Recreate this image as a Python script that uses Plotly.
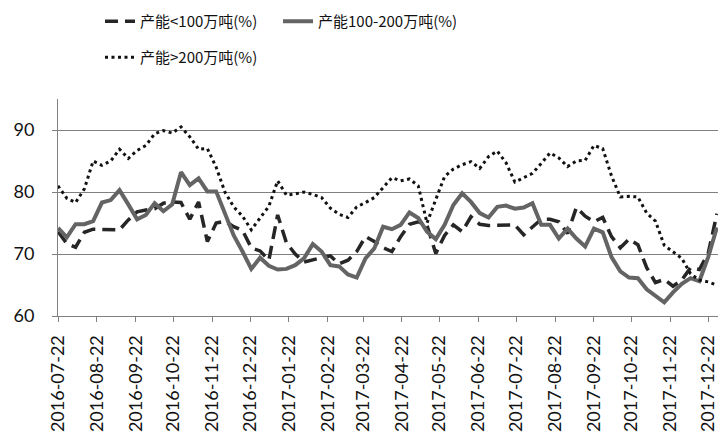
import plotly.graph_objects as go

dates = [
    "2016-07-22", "2016-07-29", "2016-08-05", "2016-08-12", "2016-08-19", "2016-08-26",
    "2016-09-02", "2016-09-09", "2016-09-16", "2016-09-23", "2016-09-30", "2016-10-07",
    "2016-10-14", "2016-10-21", "2016-10-28", "2016-11-04", "2016-11-11", "2016-11-18",
    "2016-11-25", "2016-12-02", "2016-12-09", "2016-12-16", "2016-12-23", "2016-12-30",
    "2017-01-06", "2017-01-13", "2017-01-20", "2017-01-27", "2017-02-03", "2017-02-10",
    "2017-02-17", "2017-02-24", "2017-03-03", "2017-03-10", "2017-03-17", "2017-03-24",
    "2017-03-31", "2017-04-07", "2017-04-14", "2017-04-21", "2017-04-28", "2017-05-05",
    "2017-05-12", "2017-05-19", "2017-05-26", "2017-06-02", "2017-06-09", "2017-06-16",
    "2017-06-23", "2017-06-30", "2017-07-07", "2017-07-14", "2017-07-21", "2017-07-28",
    "2017-08-04", "2017-08-11", "2017-08-18", "2017-08-25", "2017-09-01", "2017-09-08",
    "2017-09-15", "2017-09-22", "2017-09-29", "2017-10-06", "2017-10-13", "2017-10-20",
    "2017-10-27", "2017-11-03", "2017-11-10", "2017-11-17", "2017-11-24", "2017-12-01",
    "2017-12-08", "2017-12-15", "2017-12-22", "2017-12-29",
]

cap_lt100 = [
    73.6, 71.7, 71.1, 73.5, 74.0, 74.0, 73.9, 73.9, 75.5, 76.8, 77.1, 77.3,
    78.2, 78.4, 78.3, 75.6, 78.4, 72.0, 75.0, 75.3, 74.4, 73.8, 71.0, 70.5,
    69.0, 76.3, 71.8, 70.0, 68.7, 69.1, 69.4, 69.7, 68.4, 69.0, 70.4, 72.8,
    72.0, 71.0, 70.4, 72.8, 74.8, 75.2, 74.6, 70.1, 73.0, 74.7, 73.6, 76.0,
    74.8, 74.6, 74.6, 74.6, 74.7, 73.1, 74.3, 75.6, 75.6, 75.2, 73.3, 77.5,
    76.1, 75.2, 75.9, 72.8, 71.0, 72.4, 71.5, 67.8, 65.4, 65.9, 64.8, 65.8,
    67.8, 67.5, 70.1, 76.5,
]

cap_100_200 = [
    74.2, 72.7, 74.8, 74.8, 75.3, 78.3, 78.7, 80.3, 78.0, 75.6, 76.3, 78.2,
    76.9, 78.0, 83.2, 81.1, 82.2, 80.1, 80.1, 76.5, 73.0, 70.4, 67.6, 69.4,
    68.1, 67.5, 67.6, 68.2, 69.3, 71.6, 70.4, 68.2, 68.0, 66.7, 66.2, 69.3,
    70.9, 74.4, 74.0, 74.7, 76.7, 75.8, 73.6, 72.4, 74.7, 77.9, 79.8, 78.4,
    76.6, 75.9, 77.6, 77.8, 77.3, 77.5, 78.2, 74.7, 74.7, 72.5, 74.1, 72.5,
    71.2, 74.1, 73.5, 69.5, 67.2, 66.2, 66.1, 64.3, 63.3, 62.2, 63.8, 65.2,
    66.1, 65.6, 69.5, 74.3,
]

cap_gt200 = [
    81.0, 79.0, 78.3, 80.5, 85.0, 84.3, 85.0, 86.9, 85.4, 86.7, 87.5, 89.4,
    89.9, 89.5, 90.5, 88.9, 86.9, 87.0, 84.0, 80.0, 77.6, 76.1, 73.9, 75.8,
    77.7, 81.8, 79.5, 79.7, 80.0, 79.6, 79.1, 77.4, 76.4, 75.9, 77.6, 78.3,
    79.1, 80.7, 82.3, 81.8, 82.1, 81.0, 75.0, 78.8, 82.5, 83.7, 84.4, 84.9,
    83.8, 85.7, 86.6, 84.7, 81.6, 82.3, 83.0, 84.6, 86.3, 85.5, 84.1, 85.0,
    85.1, 87.5, 87.0, 82.6, 79.2, 79.3, 79.2, 76.6, 75.3, 71.4, 70.4, 69.3,
    66.8, 65.8, 65.5, 65.0,
]

tick_dates = [
    "2016-07-22", "2016-08-22", "2016-09-22", "2016-10-22", "2016-11-22", "2016-12-22",
    "2017-01-22", "2017-02-22", "2017-03-22", "2017-04-22", "2017-05-22", "2017-06-22",
    "2017-07-22", "2017-08-22", "2017-09-22", "2017-10-22", "2017-11-22", "2017-12-22",
]
tick_labels = list(tick_dates)

names = ["产能<100万吨(%)", "产能100-200万吨(%)", "产能>200万吨(%)"]

fig = go.Figure()
fig.add_trace(go.Scatter(
    x=dates, y=cap_lt100, name=names[0], mode="lines",
    line=dict(color="#262626", width=3.5, dash="13px,7px"), legend="legend",
))
fig.add_trace(go.Scatter(
    x=dates, y=cap_100_200, name=names[1], mode="lines",
    line=dict(color="#646464", width=4), legend="legend",
))
fig.add_trace(go.Scatter(
    x=dates, y=cap_gt200, name=names[2], mode="lines",
    line=dict(color="#111111", width=3, dash="3px,3.5px"), legend="legend2",
))

legend_font = dict(family="Noto Sans CJK SC", size=15, color="#111111")
tick_font = dict(family="Lato", size=18, color="#111111")

fig.update_layout(
    width=727, height=441,
    margin=dict(l=58, r=9, t=99, b=125),
    plot_bgcolor="white", paper_bgcolor="white",
    showlegend=True,
    legend=dict(
        orientation="h", xref="container", yref="container",
        x=100 / 727, y=1 - 5 / 441, xanchor="left", yanchor="top",
        font=legend_font, entrywidth=133, bgcolor="rgba(0,0,0,0)",
        traceorder="normal",
    ),
    legend2=dict(
        orientation="h", xref="container", yref="container",
        x=100 / 727, y=1 - 41 / 441, xanchor="left", yanchor="top",
        font=legend_font, bgcolor="rgba(0,0,0,0)",
    ),
    xaxis=dict(
        type="date",
        range=["2016-07-22", "2017-12-29 20:00"],
        tickvals=tick_dates, ticktext=tick_labels,
        tickangle=-90, ticks="outside", ticklen=5, tickcolor="#808080",
        showline=True, linecolor="#808080", linewidth=1,
        showgrid=False, zeroline=False,
        tickfont=tick_font, ticklabelstandoff=6,
    ),
    yaxis=dict(
        range=[60, 95], tickvals=[60, 70, 80, 90],
        ticks="outside", ticklen=5, tickcolor="#808080",
        showline=True, linecolor="#808080", linewidth=1,
        showgrid=True, gridcolor="#808080", gridwidth=1, zeroline=False,
        tickfont=tick_font, ticklabelstandoff=14,
    ),
)

fig.write_html("out.html")
